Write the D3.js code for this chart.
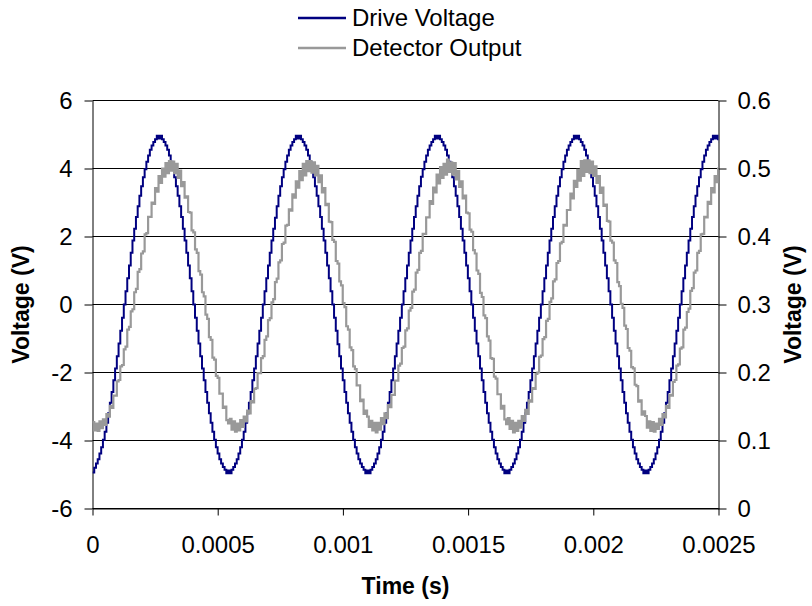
<!DOCTYPE html>
<html>
<head>
<meta charset="utf-8">
<script src="https://cdn.jsdelivr.net/npm/d3@7/dist/d3.min.js"></script>
<style>
  body { margin: 0; background: #fff; }
  text { font-family: "Liberation Sans", Arial, sans-serif; }
</style>
</head>
<body>
<svg id="chart" width="812" height="606"></svg>
<script>
// Axis ticks and labels
const timeTicks = [0, 0.0005, 0.001, 0.0015, 0.002, 0.0025];
const timeTickLabels = ["0", "0.0005", "0.001", "0.0015", "0.002", "0.0025"];
const leftTicks = [-6, -4, -2, 0, 2, 4, 6];
const leftTickLabels = ["-6", "-4", "-2", "0", "2", "4", "6"];
const rightTicks = [0, 0.1, 0.2, 0.3, 0.4, 0.5, 0.6];
const rightTickLabels = ["0", "0.1", "0.2", "0.3", "0.4", "0.5", "0.6"];
const seriesNames = ["Drive Voltage", "Detector Output"];

// Sampling interval of the recorded traces (s)
const sampleInterval = 6.94e-6;

// Drive voltage samples (V, left axis)
const driveVoltage = [
  -4.94,-4.80,-4.68,-4.55,-4.38,-4.20,-3.98,-3.74,-3.48,-3.20,-2.89,-2.57,-2.23,-1.88,-1.52,-1.15,-0.77,-0.39,0.00,0.39,
  0.77,1.15,1.52,1.88,2.23,2.57,2.89,3.20,3.48,3.74,3.98,4.20,4.38,4.55,4.68,4.78,4.86,4.96,4.88,4.96,
  4.86,4.78,4.68,4.55,4.38,4.20,3.98,3.74,3.48,3.20,2.89,2.57,2.23,1.88,1.52,1.15,0.77,0.39,0.00,-0.39,
  -0.77,-1.15,-1.52,-1.88,-2.23,-2.57,-2.89,-3.20,-3.48,-3.74,-3.98,-4.20,-4.38,-4.55,-4.68,-4.78,-4.86,-4.96,
  -4.88,-4.96,-4.86,-4.78,-4.68,-4.55,-4.38,-4.20,-3.98,-3.74,-3.48,-3.20,-2.89,-2.57,-2.23,-1.88,-1.52,-1.15,-0.77,-0.39,
  0.00,0.39,0.77,1.15,1.52,1.88,2.23,2.55,2.89,3.20,3.48,3.74,3.98,4.20,4.38,4.55,4.68,4.78,4.86,4.96,
  4.88,4.96,4.86,4.78,4.68,4.55,4.38,4.20,3.98,3.74,3.48,3.20,2.89,2.57,2.23,1.88,1.52,1.15,0.77,0.39,
  0.00,-0.39,-0.77,-1.17,-1.52,-1.88,-2.23,-2.57,-2.89,-3.20,-3.48,-3.74,-3.98,-4.20,-4.38,-4.55,-4.68,-4.78,-4.86,-4.96,
  -4.88,-4.96,-4.86,-4.78,-4.68,-4.55,-4.38,-4.20,-3.98,-3.74,-3.48,-3.20,-2.89,-2.57,-2.23,-1.88,-1.52,-1.15,-0.77,-0.39,
  0.00,0.39,0.77,1.15,1.52,1.88,2.23,2.57,2.89,3.20,3.48,3.76,3.98,4.20,4.38,4.55,4.68,4.78,4.86,4.96,
  4.88,4.96,4.86,4.78,4.68,4.55,4.38,4.20,3.98,3.74,3.48,3.20,2.89,2.57,2.23,1.88,1.52,1.15,0.77,0.39,
  0.00,-0.39,-0.77,-1.15,-1.52,-1.88,-2.23,-2.57,-2.89,-3.20,-3.48,-3.74,-3.98,-4.20,-4.38,-4.55,-4.68,-4.78,-4.86,-4.96,
  -4.88,-4.96,-4.86,-4.78,-4.68,-4.55,-4.38,-4.20,-3.98,-3.74,-3.48,-3.20,-2.89,-2.57,-2.23,-1.88,-1.52,-1.15,-0.77,-0.39,
  0.00,0.39,0.77,1.15,1.52,1.88,2.23,2.57,2.89,3.20,3.48,3.74,3.98,4.20,4.38,4.55,4.68,4.78,4.86,4.96,
  4.88,4.96,4.86,4.78,4.68,4.55,4.38,4.20,3.98,3.74,3.48,3.20,2.89,2.57,2.23,1.88,1.52,1.15,0.77,0.39,
  0.00,-0.39,-0.77,-1.15,-1.52,-1.88,-2.23,-2.57,-2.89,-3.20,-3.48,-3.74,-3.98,-4.20,-4.38,-4.55,-4.68,-4.78,-4.86,-4.96,
  -4.88,-4.96,-4.86,-4.78,-4.68,-4.55,-4.38,-4.20,-3.98,-3.74,-3.48,-3.20,-2.89,-2.57,-2.23,-1.88,-1.52,-1.15,-0.77,-0.39,
  0.00,0.39,0.77,1.15,1.52,1.88,2.23,2.57,2.89,3.20,3.48,3.74,3.98,4.20,4.38,4.55,4.68,4.78,4.86,4.96,
  4.88,4.96,4.86,4.78,4.68
];

// Detector output samples (V, right axis)
const detectorOutput = [
  0.127,0.115,0.125,0.114,0.128,0.118,0.131,0.123,0.139,0.135,
  0.151,0.148,0.166,0.166,0.187,0.189,0.209,0.211,0.234,0.238,
  0.263,0.267,0.290,0.293,0.318,0.323,0.348,0.352,0.375,0.378,
  0.403,0.405,0.429,0.429,0.450,0.448,0.471,0.466,0.489,0.479,
  0.500,0.488,0.508,0.493,0.511,0.497,0.510,0.493,0.507,0.486,
  0.497,0.474,0.480,0.457,0.459,0.436,0.435,0.409,0.406,0.381,
  0.376,0.349,0.344,0.318,0.312,0.285,0.279,0.252,0.248,0.222,
  0.219,0.195,0.192,0.169,0.169,0.148,0.150,0.130,
  0.125,0.132,0.116,0.128,0.113,0.125,0.115,0.130,0.120,0.135,
  0.128,0.144,0.140,0.158,0.156,0.176,0.177,0.199,0.199,0.221,
  0.224,0.248,0.253,0.277,0.280,0.303,0.308,0.333,0.338,0.362,
  0.365,0.389,0.391,0.416,0.417,0.440,0.438,0.462,0.457,0.481,
  0.472,0.496,0.483,0.507,0.490,0.511,0.496,0.511,0.494,0.509,
  0.490,0.504,0.480,0.490,0.465,0.471,0.446,0.448,0.422,0.421,
  0.395,0.392,0.364,0.360,0.334,0.328,0.302,0.296,0.268,0.263,
  0.237,0.233,0.209,0.205,0.181,0.181,0.158,0.160,0.139,0.144,
  0.135,0.120,0.129,0.115,0.126,0.112,0.126,0.116,0.133,0.124,
  0.140,0.133,0.152,0.149,0.167,0.167,0.188,0.188,0.210,0.213,
  0.236,0.238,0.262,0.265,0.291,0.295,0.319,0.322,0.347,0.351,
  0.376,0.379,0.404,0.404,0.428,0.428,0.452,0.448,0.472,0.465,
  0.491,0.478,0.502,0.486,0.507,0.491,0.513,0.495,0.509,0.491,
  0.508,0.484,0.496,0.473,0.481,0.456,0.460,0.435,0.434,0.410,
  0.407,0.380,0.375,0.350,0.345,0.317,0.311,0.284,0.280,0.253,
  0.247,0.221,0.220,0.194,0.191,0.168,0.168,0.147,0.151,0.131,
  0.124,0.133,0.117,0.129,0.112,0.126,0.114,0.129,0.119,0.136,
  0.129,0.145,0.139,0.159,0.157,0.177,0.176,0.198,0.200,0.223,
  0.225,0.249,0.252,0.276,0.279,0.304,0.309,0.334,0.337,0.361,
  0.364,0.390,0.392,0.417,0.416,0.439,0.439,0.463,0.456,0.482,
  0.473,0.498,0.482,0.511,0.489,0.512,0.495,0.512,0.493,0.510,
  0.489,0.503,0.479,0.489,0.464,0.472,0.445,0.447,0.423,0.422,
  0.394,0.391,0.365,0.361,0.333,0.327,0.301,0.295,0.269,0.264,
  0.236,0.232,0.208,0.206,0.182,0.180,0.157,0.159,0.138,0.143,
  0.136,0.119,0.128,0.114,0.127,0.113,0.125,0.117,0.132,0.123,
  0.139,0.134,0.151,0.148,0.167,0.166,0.186,0.189,0.210,0.212,
  0.235,0.237,0.263,0.266,0.289,0.294,0.320,0.324,0.347,0.350,
  0.376,0.379,0.403,0.404,0.429,0.428,0.451,0.448,0.471,0.465,
  0.489,0.480,0.500,0.489,0.506
];

const driveColor = "#000080";
const detectorColor = "#999999";

const svg = d3.select("#chart");
const plot = { left: 92.5, right: 718.5, top: 100.5, bottom: 508.5 };

const x = d3.scaleLinear().domain([0, 0.0025]).range([plot.left, plot.right]);
const yLeft = d3.scaleLinear().domain([-6, 6]).range([plot.bottom, plot.top]);
const yRight = d3.scaleLinear().domain([0, 0.6]).range([plot.bottom, plot.top]);

const tickFontSize = 24;
const titleFontSize = 23;
const legendFontSize = 24;

// Horizontal gridlines at the left-axis ticks
svg.append("g")
  .selectAll("line")
  .data(leftTicks)
  .join("line")
  .attr("x1", plot.left)
  .attr("x2", plot.right)
  .attr("y1", d => yLeft(d))
  .attr("y2", d => yLeft(d))
  .attr("stroke", "#000")
  .attr("stroke-width", 1);

// Left axis
const leftAxis = svg.append("g")
  .attr("transform", `translate(${plot.left},0)`)
  .call(d3.axisLeft(yLeft).tickValues(leftTicks)
    .tickFormat((d, i) => leftTickLabels[i]).tickSize(8).tickPadding(12).tickSizeOuter(0));

// Right axis
const rightAxis = svg.append("g")
  .attr("transform", `translate(${plot.right},0)`)
  .call(d3.axisRight(yRight).tickValues(rightTicks)
    .tickFormat((d, i) => rightTickLabels[i]).tickSize(8).tickPadding(11).tickSizeOuter(0));

// Bottom axis
const bottomAxis = svg.append("g")
  .attr("transform", `translate(0,${plot.bottom})`)
  .call(d3.axisBottom(x).tickValues(timeTicks)
    .tickFormat((d, i) => timeTickLabels[i]).tickSize(7).tickPadding(20).tickSizeOuter(0));

[leftAxis, rightAxis, bottomAxis].forEach(g => {
  g.selectAll("path.domain").attr("stroke", "#000").attr("stroke-width", 1);
  g.selectAll(".tick line").attr("stroke", "#000");
  g.selectAll(".tick text")
    .attr("fill", "#000")
    .style("font-family", '"Liberation Sans", Arial, sans-serif')
    .style("font-size", tickFontSize + "px");
});

// Clip traces to the plot area
svg.append("defs").append("clipPath").attr("id", "plot-clip")
  .append("rect")
  .attr("x", plot.left)
  .attr("y", plot.top - 4)
  .attr("width", plot.right - plot.left)
  .attr("height", plot.bottom - plot.top + 8);

const traces = svg.append("g").attr("clip-path", "url(#plot-clip)");

const driveLine = d3.line()
  .x((d, i) => x(i * sampleInterval))
  .y(d => yLeft(d))
  .curve(d3.curveStepAfter);

const detectorLine = d3.line()
  .x((d, i) => x(i * sampleInterval))
  .y(d => yRight(d))
  .curve(d3.curveStepAfter);

traces.append("path")
  .datum(driveVoltage)
  .attr("d", driveLine)
  .attr("fill", "none")
  .attr("stroke", driveColor)
  .attr("stroke-width", 2)
  .attr("stroke-linejoin", "miter");

traces.append("path")
  .datum(detectorOutput)
  .attr("d", detectorLine)
  .attr("fill", "none")
  .attr("stroke", detectorColor)
  .attr("stroke-width", 2.2)
  .attr("stroke-linejoin", "miter");

// Axis titles
svg.append("text")
  .attr("x", (plot.left + plot.right) / 2)
  .attr("y", 594)
  .attr("text-anchor", "middle")
  .style("font-size", titleFontSize + "px")
  .style("font-weight", "bold")
  .text("Time (s)");

svg.append("text")
  .attr("transform", `translate(29,${(plot.top + plot.bottom) / 2}) rotate(-90)`)
  .attr("text-anchor", "middle")
  .style("font-size", titleFontSize + "px")
  .style("font-weight", "bold")
  .text("Voltage (V)");

svg.append("text")
  .attr("transform", `translate(801,${(plot.top + plot.bottom) / 2}) rotate(-90)`)
  .attr("text-anchor", "middle")
  .style("font-size", titleFontSize + "px")
  .style("font-weight", "bold")
  .text("Voltage (V)");

// Legend
const legendColors = [driveColor, detectorColor];
const legend = svg.append("g");
const legendItems = legend.selectAll("g")
  .data(seriesNames)
  .join("g")
  .attr("transform", (d, i) => `translate(298,${18 + i * 30})`);

legendItems.append("line")
  .attr("x1", 0).attr("x2", 48)
  .attr("y1", 0).attr("y2", 0)
  .attr("stroke", (d, i) => legendColors[i])
  .attr("stroke-width", 2.5);

legendItems.append("text")
  .attr("x", 54)
  .attr("y", 0)
  .attr("dy", "0.35em")
  .style("font-size", legendFontSize + "px")
  .text(d => d);
</script>
</body>
</html>
